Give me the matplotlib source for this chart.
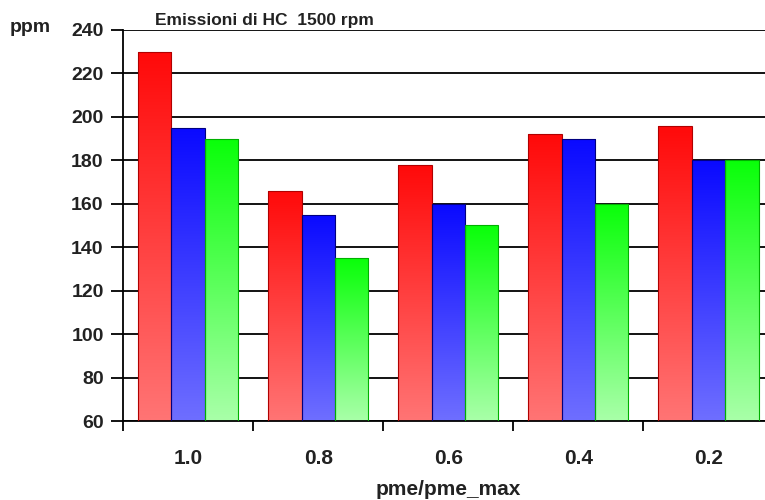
import matplotlib.pyplot as plt
import numpy as np
from matplotlib.colors import to_rgb

plt.rcParams['font.family'] = ['Liberation Sans', 'DejaVu Sans']

categories = ['1.0', '0.8', '0.6', '0.4', '0.2']
red_vals = [230, 166, 178, 192, 196]
blue_vals = [195, 155, 160, 190, 180]
green_vals = [190, 135, 150, 160, 180]

series = [
    (red_vals, '#ff0a0a', '#ff7474', '#b00000'),
    (blue_vals, '#0a0aff', '#6e6eff', '#000080'),
    (green_vals, '#0aff0a', '#a8ffa8', '#00b000'),
]

fig = plt.figure(figsize=(7.65, 5.0), dpi=100)
ax = fig.add_axes([0.161, 0.158, 0.85, 0.782])

ymin, ymax = 60, 240
bar_w = 0.257
x = np.arange(len(categories))

for k, (vals, top_c, bot_c, edge_c) in enumerate(series):
    top = np.array(to_rgb(top_c))
    bot = np.array(to_rgb(bot_c))
    grad = np.linspace(0, 1, 64)[:, None]
    img = (bot[None, :] * (1 - grad) + top[None, :] * grad)[:, None, :]
    offs = (k - 1) * bar_w
    bars = ax.bar(x + offs, np.array(vals) - ymin, bar_w, bottom=ymin,
                  color='none', edgecolor=edge_c, linewidth=0.8, zorder=3)
    for b, v in zip(bars, vals):
        x0 = b.get_x()
        im = ax.imshow(img, extent=[x0, x0 + bar_w, ymin, v], origin='lower',
                       aspect='auto', zorder=2, interpolation='bilinear')
        im.set_clip_path(b)

ax.set_xlim(-0.5, len(categories) - 0.5)
ax.set_ylim(ymin, ymax)
ax.set_yticks(np.arange(60, 241, 20))
ax.yaxis.grid(True, color='black', linewidth=1.3, zorder=1)
ax.set_axisbelow(True)

ax.set_xticks(x)
ax.set_xticklabels(categories, fontsize=15, fontweight='bold', color='#222222')
ax.tick_params(axis='x', which='major', length=0, pad=20)
ax.set_xticks(np.arange(len(categories)) - 0.5, minor=True)
ax.tick_params(axis='x', which='minor', length=7, width=1.3, direction='out')
ax.tick_params(axis='y', length=9, width=1.3, direction='out', pad=5,
               labelsize=14)
for lab in ax.get_yticklabels():
    lab.set_fontweight('bold')
    lab.set_color('#222222')

for s in ['top', 'right']:
    ax.spines[s].set_visible(False)
ax.spines['left'].set_linewidth(1.3)
ax.spines['bottom'].set_linewidth(1.3)

ax.set_xlabel('pme/pme_max', fontsize=15, fontweight='bold', color='#222222',
              labelpad=9)
fig.text(0.013, 0.946, 'ppm', fontsize=14, fontweight='bold', color='#222222',
         va='center', ha='left')
fig.text(0.203, 0.958, 'Emissioni di HC  1500 rpm', fontsize=12.5,
         fontweight='bold', color='#222222', va='center', ha='left')

fig.savefig('out.png', dpi=100)
